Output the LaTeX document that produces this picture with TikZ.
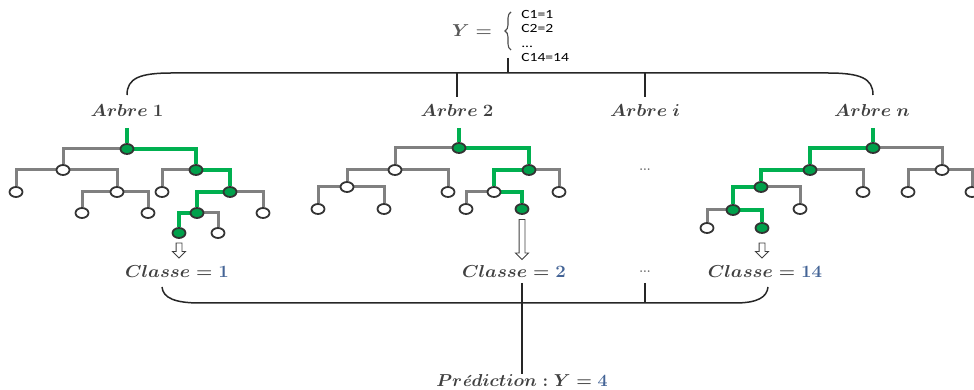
\documentclass[tikz,border=0pt]{standalone}
\usepackage{amsmath,amssymb}
\usepackage{fontspec}
\usepackage{tikz}
\usetikzlibrary{arrows.meta,positioning,shapes.geometric,shapes.arrows,
                decorations.pathreplacing,backgrounds}
\newfontfamily\listfont{Carlito}
\definecolor{pathgreen}{RGB}{0,176,80}
\definecolor{hitgreen}{RGB}{0,160,75}
\definecolor{branchgray}{RGB}{128,128,128}
\definecolor{txtgray}{RGB}{64,64,64}
\definecolor{numblue}{RGB}{68,100,150}
\tikzset{
    leaf/.style={ellipse, draw=black!80, fill=white, line width=1.8pt,
                 minimum width=13pt, minimum height=10pt, inner sep=0pt},
    hit/.style={leaf, fill=hitgreen},
    br/.style={draw=branchgray, line width=3pt},
    gbr/.style={draw=pathgreen, line width=4pt},
    lbl/.style={font=\fontsize{16}{19}\selectfont\boldmath, text=txtgray,
                inner sep=1pt, xscale=1.08},
    dots/.style={font=\large\bfseries, text=black!60, inner sep=0pt},
    bracket/.style={draw=black!85, line width=1.5pt},
    hollow/.style={single arrow, draw=black!75, fill=white, line width=0.9pt,
                   single arrow head extend=3.5pt, inner sep=2.5pt,
                   minimum height=#1, rotate=-90},
}

\begin{document}
\begin{tikzpicture}[x=1pt,y=1pt]
    \useasboundingbox (0,0) rectangle (974,390);

    % classes Y
    \node[lbl, text=black!65] (yeq) at (472,359) {$Y=$};
    \node[anchor=west, align=left, inner sep=0pt, xscale=1.25,
          font=\listfont\fontsize{12.5}{14.3}\selectfont] (ylist) at (521,354)
          {C1=1\\C2=2\\...\\C14=14};
    \draw[decorate, decoration={brace, amplitude=6pt}, draw=black!70, line width=1.1pt]
        (511,340) -- (511,378);

    % top bracket
    \node[lbl] (a1) at (127,279) {$Arbre~1$};
    \node[lbl] (a2) at (457,279) {$Arbre~2$};
    \node[lbl] (ai) at (645,279) {$Arbre~i$};
    \node[lbl] (an) at (872,279) {$Arbre~n$};
    \coordinate (ytop) at (508,332);
    \coordinate (ybar) at (508,317);
    \draw[bracket] (127,295) .. controls (127,312) and (140,317) .. (172,317)
        -- (827,317) .. controls (860,317) and (873,312) .. (873,295);
    \draw[bracket] (ytop) -- (ybar);
    \draw[bracket] (457,317) -- ([yshift=7pt]a2.north);
    \draw[bracket] (645,317) -- ([yshift=7pt]ai.north);

    % arbre 1
    \coordinate (s1) at (127,262);
    \node[hit]  (t1r) at (127,241) {};
    \node[leaf] (t1a) at (63,220) {};
    \node[hit]  (t1b) at (196,220) {};
    \node[leaf] (t1c) at (16,198) {};
    \node[leaf] (t1d) at (117,198) {};
    \node[leaf] (t1e) at (82,177) {};
    \node[leaf] (t1f) at (148,177) {};
    \node[leaf] (t1g) at (162,198) {};
    \node[hit]  (t1h) at (230,198) {};
    \node[hit]  (t1i) at (197,177) {};
    \node[leaf] (t1j) at (263,177) {};
    \node[hit]  (t1k) at (179,157) {};
    \node[leaf] (t1l) at (218,157) {};

    % arbre 2
    \coordinate (s2) at (459,262);
    \node[hit]  (t2r) at (459,242) {};
    \node[leaf] (t2a) at (395,220) {};
    \node[hit]  (t2b) at (529,220) {};
    \node[leaf] (t2c) at (347,203) {};
    \node[leaf] (t2d) at (448,198) {};
    \node[leaf] (t2e) at (318,181) {};
    \node[leaf] (t2f) at (384,181) {};
    \node[leaf] (t2g) at (494,198) {};
    \node[leaf] (t2h) at (559,198) {};
    \node[leaf] (t2i) at (466,181) {};
    \node[hit]  (t2k) at (522,181) {};

    % arbre n
    \coordinate (sn) at (873,262);
    \node[hit]  (tnr) at (873,242) {};
    \node[hit]  (tna) at (810,220) {};
    \node[leaf] (tnb) at (942,220) {};
    \node[hit]  (tnc) at (761,203) {};
    \node[leaf] (tnd) at (863,198) {};
    \node[hit]  (tne) at (733,180) {};
    \node[leaf] (tnf) at (800,181) {};
    \node[leaf] (tng) at (707,162) {};
    \node[hit]  (tnh) at (762,162) {};
    \node[leaf] (tni) at (908,198) {};
    \node[leaf] (tnj) at (972,198) {};

    \begin{scope}[on background layer]
        \foreach \p/\c in {t1r/t1a, t1a/t1c, t1a/t1d, t1d/t1e, t1d/t1f, t1b/t1g,
                           t1h/t1j, t1i/t1l,
                           t2r/t2a, t2a/t2c, t2a/t2d, t2c/t2e, t2c/t2f, t2b/t2h,
                           t2g/t2i,
                           tnr/tnb, tna/tnd, tnc/tnf, tne/tng, tnb/tni, tnb/tnj}
            \draw[br] (\p) -| (\c);
        \foreach \p/\c in {t1r/t1b, t1b/t1h, t1h/t1i, t1i/t1k,
                           t2r/t2b, t2b/t2g, t2g/t2k,
                           tnr/tna, tna/tnc, tnc/tne, tne/tnh}
            \draw[gbr] (\p) -| (\c);
        \draw[gbr] (s1) -- (t1r);
        \draw[gbr] (s2) -- (t2r);
        \draw[gbr] (sn) -- (tnr);
    \end{scope}

    \node[dots] (d1) at (645,220) {...};

    % votes
    \node[hollow=15pt] (v1) at (179,141) {};
    \node[hollow=40pt] (v2) at (522,152) {};
    \node[hollow=15pt] (vn) at (762,141) {};
    \node[lbl] (c1) at (177,118) {$Classe=\textcolor{numblue}{1}$};
    \node[lbl] (c2) at (514,118) {$Classe=\textcolor{numblue}{2}$};
    \node[dots] (d2) at (645,118) {...};
    \node[lbl] (cn) at (765,118) {$Classe=\textcolor{numblue}{14}$};

    % bottom bracket
    \node[lbl, xscale=0.96] (pred) at (522,9) {$Pr\textbf{\textit{é}}diction:Y=\textcolor{numblue}{4}$};
    \draw[bracket] (162,103) .. controls (163,92) and (175,87) .. (200,87)
        -- (735,87) .. controls (758,87) and (767,93) .. (768,103);
    \draw[bracket] (522,107) -- (pred.north);
    \draw[bracket] (645,107) -- (645,87);
\end{tikzpicture}
\end{document}
